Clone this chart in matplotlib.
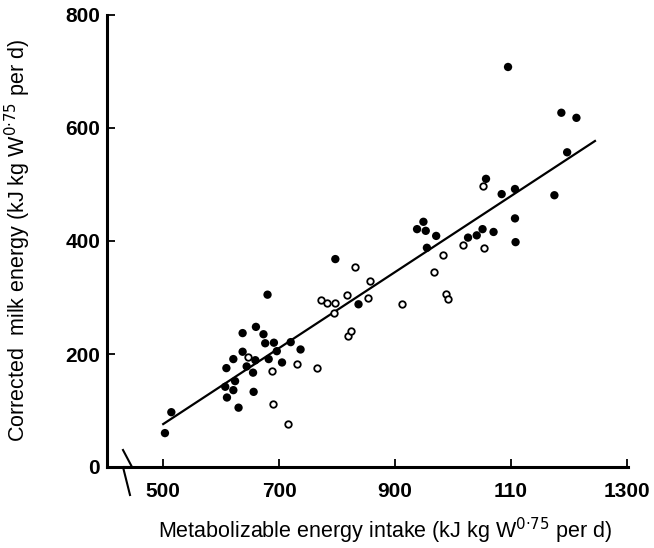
import matplotlib.pyplot as plt
import numpy as np

# filled circles
filled_x = [503, 514, 607, 609, 610, 621, 621, 624, 630, 637, 637, 644, 655, 656,
            659, 660, 673, 676, 680, 682, 691, 696, 705, 720, 737, 797, 837,
            938, 949, 953, 955, 971, 1026, 1041, 1051, 1057, 1070, 1084, 1095,
            1107, 1107, 1108, 1175, 1187, 1197, 1213]
filled_y = [60, 97, 142, 175, 123, 191, 136, 152, 105, 237, 204, 178, 167, 133,
            189, 248, 235, 219, 305, 191, 220, 205, 185, 221, 208, 368, 288,
            421, 434, 418, 388, 409, 406, 410, 421, 510, 416, 483, 708,
            492, 440, 398, 481, 627, 557, 618]

# open circles
open_x = [647, 687, 690, 716, 730, 766, 772, 783, 794, 797, 817, 818, 824, 831,
          854, 856, 912, 967, 982, 988, 992, 1018, 1052, 1053]
open_y = [195, 170, 111, 76, 182, 176, 296, 291, 272, 291, 304, 232, 241, 354,
          300, 330, 289, 346, 376, 307, 298, 393, 498, 387]

# fitted regression line end points
line_x = [500, 1245]
line_y = [76, 577]

xticks = [500, 700, 900, 1100, 1300]
xtick_labels = ['500', '700', '900', '110', '1300']
yticks = [0, 200, 400, 600, 800]

plt.rcParams['font.family'] = ['Liberation Sans', 'DejaVu Sans']

fig = plt.figure(figsize=(6.54, 5.48), dpi=100)
ax = fig.add_axes([107 / 654, 81 / 548, 521 / 654, 452 / 548])

ax.plot(line_x, line_y, color='black', lw=1.6, zorder=2)
ax.scatter(filled_x, filled_y, s=36, color='black', edgecolors='none', zorder=3)
ax.scatter(open_x, open_y, s=22, facecolors='white', edgecolors='black',
           linewidths=1.3, zorder=3)

ax.set_xlim(403, 1302)
ax.set_ylim(0, 800)
ax.set_xticks(xticks)
ax.set_xticklabels(xtick_labels)
ax.set_yticks(yticks)

for side in ['top', 'right']:
    ax.spines[side].set_visible(False)
for side in ['left', 'bottom']:
    ax.spines[side].set_linewidth(2.2)

ax.tick_params(direction='in', length=6, width=1.3, labelsize=15)
ax.tick_params(axis='x', pad=11)
ax.tick_params(axis='y', pad=5)
for lab in ax.get_xticklabels() + ax.get_yticklabels():
    lab.set_fontweight('bold')

# axis break mark on the x axis
brk_x = [(123 - 107) / 521, (132 - 107) / 521, (123 - 107) / 521, (130 - 107) / 521]
brk_y = [(467 - 450) / 452, 0, 0, -(495 - 467) / 452]
ax.plot(brk_x, brk_y, transform=ax.transAxes, color='black', lw=1.5,
        clip_on=False, zorder=5)

ax.set_ylabel('Corrected  milk energy (kJ kg W$^{0\u00b775}$ per d)', fontsize=15.5)
ax.yaxis.set_label_coords(-0.142, 0.5)
ax.set_xlabel('Metabolizable energy intake (kJ kg W$^{0\u00b775}$ per d)', fontsize=15.5)
ax.xaxis.set_label_coords(0.533, -0.107)

plt.savefig('out.png', dpi=100)
